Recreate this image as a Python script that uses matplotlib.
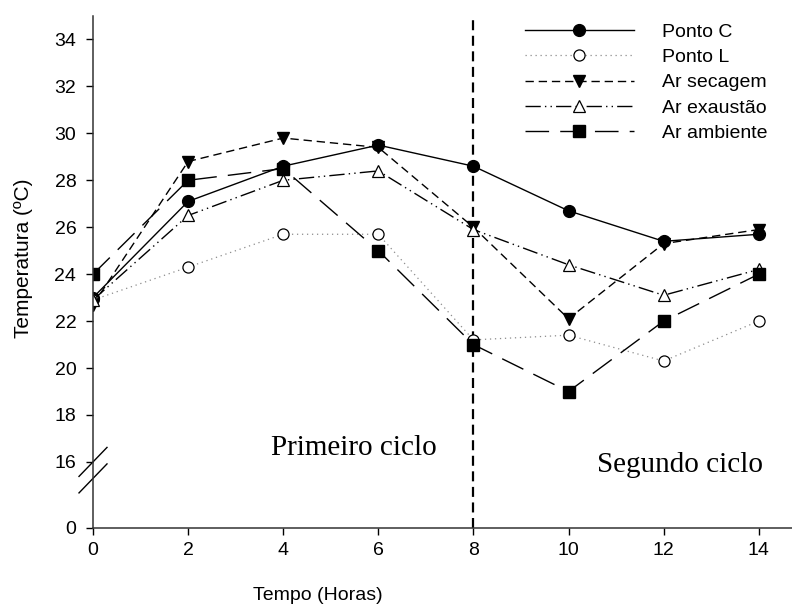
import numpy as np
import matplotlib
matplotlib.use("Agg")
import matplotlib.pyplot as plt

plt.rcParams['font.family'] = ['Liberation Sans', 'DejaVu Sans']

horas = [0, 2, 4, 6, 8, 10, 12, 14]
ponto_c = [23.0, 27.1, 28.6, 29.5, 28.6, 26.7, 25.4, 25.7]
ponto_l = [22.9, 24.3, 25.7, 25.7, 21.2, 21.4, 20.3, 22.0]
ar_secagem = [22.7, 28.8, 29.8, 29.4, 26.0, 22.1, 25.3, 25.9]
ar_exaustao = [22.9, 26.5, 28.0, 28.4, 25.9, 24.4, 23.1, 24.2]
ar_ambiente = [24.0, 28.0, 28.5, 25.0, 21.0, 19.0, 22.0, 24.0]

yticks = [0, 16, 18, 20, 22, 24, 26, 28, 30, 32, 34]
troca_ciclo = 8

# compress everything below 16 so the 0 tick sits just under the break
BREAK = 16.0
K = 0.176


def fwd(y):
    y = np.asarray(y, dtype=float)
    return np.where(y >= BREAK, y, BREAK - (BREAK - y) * K)


def inv(y):
    y = np.asarray(y, dtype=float)
    return np.where(y >= BREAK, y, BREAK - (BREAK - y) / K)


fig = plt.figure(figsize=(7.92, 6.11), dpi=100)
ax = fig.add_axes([93 / 792, 83 / 611, 699 / 792, 512 / 611])
ax.set_yscale('function', functions=(fwd, inv))

ax.plot(horas, ponto_c, color='black', lw=1.0, marker='o', ms=8.5,
        mfc='black', mec='black', label='Ponto C')
ax.plot(horas, ponto_l, color='0.55', lw=0.9, ls=(0, (1, 3)), marker='o', ms=8,
        mfc='white', mec='black', mew=0.9, label='Ponto L')
ax.plot(horas, ar_secagem, color='black', lw=1.0, ls=(0, (6, 3.5)), marker='v', ms=9,
        mfc='black', mec='black', label='Ar secagem')
ax.plot(horas, ar_exaustao, color='black', lw=1.0, ls=(0, (11, 3, 1, 3, 1, 3)), marker='^', ms=9,
        mfc='white', mec='black', mew=0.9, label='Ar exaustão')
ax.plot(horas, ar_ambiente, color='black', lw=1.0, ls=(0, (17, 8)), marker='s', ms=8,
        mfc='black', mec='black', label='Ar ambiente')

ax.axvline(troca_ciclo, color='black', lw=1.6, ls=(0, (4.5, 2.5)), zorder=1)

ax.set_xlim(0, 14.7)
ax.set_ylim(0, 35)
ax.set_xticks(horas)
ax.set_yticks(yticks)
ax.tick_params(labelsize=14, direction='out', length=5, width=1)
ax.tick_params(axis='y', pad=7)
ax.tick_params(axis='x', pad=5)
for s in ['top', 'right']:
    ax.spines[s].set_visible(False)
for s in ['left', 'bottom']:
    ax.spines[s].set_linewidth(1.1)
    ax.spines[s].set_color('0.2')

ax.set_xlabel('Tempo (Horas)', fontsize=14)
ax.set_ylabel('Temperatura (ºC)', fontsize=15)
ax.xaxis.set_label_coords(0.322, -0.131)
ax.yaxis.set_label_coords(-0.100, 0.527)
ax.xaxis.label.set_va('center')
ax.yaxis.label.set_va('center')

# break marks on the y axis at 16
y16 = ax.transAxes.inverted().transform(ax.transData.transform((0, BREAK)))[1]
dx, dy = 14 / 699, 14.5 / 512
gap = 16.5 / 512
for off in (0, gap):
    ax.plot([-dx, dx], [y16 - off - dy, y16 - off + dy], transform=ax.transAxes,
            color='black', lw=1.0, clip_on=False)

ax.text(0.373, 0.156, 'Primeiro ciclo', transform=ax.transAxes, ha='center', va='center',
        fontsize=21, family='Liberation Serif')
ax.text(0.84, 0.123, 'Segundo ciclo', transform=ax.transAxes, ha='center', va='center',
        fontsize=21, family='Liberation Serif')

ax.legend(loc='upper left', bbox_to_anchor=(525 / 792, 1 - 23 / 611),
          bbox_transform=fig.transFigure, frameon=False, fontsize=14,
          handlelength=5.6, handletextpad=1.45, labelspacing=0.4,
          borderpad=0, borderaxespad=0, numpoints=1)

fig.savefig('out.png', dpi=100)
